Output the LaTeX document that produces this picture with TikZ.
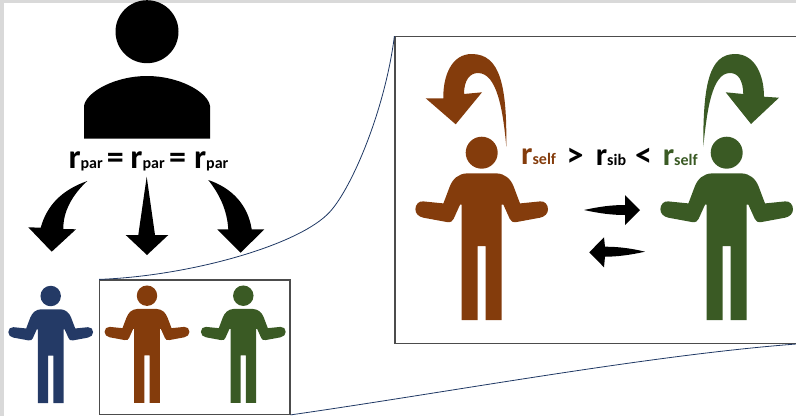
\documentclass[tikz,border=0pt]{standalone}
\usepackage{fontspec}
\setmainfont{Carlito}
\definecolor{pblue}{HTML}{243A66}
\definecolor{pbrown}{HTML}{843C0C}
\definecolor{pgreen}{HTML}{3A5A24}
\definecolor{stage}{HTML}{D9D9D9}
\definecolor{zoomline}{HTML}{1F3864}
\newcommand{\rlarge}[1]{{\fontsize{#1}{#1}\selectfont r}}
\newcommand{\subtx}[2]{{\fontsize{#1}{#1}\selectfont #2}}
\newcommand{\relsym}[1]{{\fontsize{34}{34}\selectfont #1}}
\tikzset{
  x=1pt,y=-1pt,
  person/.pic={
    \fill[pic actions] (0,0) circle[radius=16];
    \fill[pic actions] (0,20.7) -- (15,20.7) .. controls (23,21) and (29,26) .. (32,34)
      -- (38.3,50.7) -- (58.3,48.7)
      .. controls (63,48) and (66.3,52) .. (66.3,56.5)
      .. controls (66.3,61) and (63,64) .. (58.3,65)
      -- (35,69.3) .. controls (31,70) and (29,68.5) .. (28,66)
      -- (21.7,52) -- (20,52) -- (20,167.3) -- (4,167.3) -- (4,93.3)
      -- (-4,93.3) -- (-4,167.3) -- (-20,167.3) -- (-20,52) -- (-21.7,52)
      -- (-28,66) .. controls (-29,68.5) and (-31,70) .. (-35,69.3)
      -- (-58.3,65) .. controls (-63,64) and (-66.3,61) .. (-66.3,56.5)
      .. controls (-66.3,52) and (-63,48) .. (-58.3,48.7)
      -- (-38.3,50.7) -- (-32,34) .. controls (-29,26) and (-23,21) .. (-15,20.7) -- cycle;
  },
  framebox/.style={draw=black!70,line width=1.2pt,minimum width=#1,inner sep=0pt,anchor=center},
  zoomedge/.style={draw=zoomline,line width=.8pt},
  lbl/.style={inner sep=0pt,anchor=base west,font=\bfseries},
}
\begin{document}
\begin{tikzpicture}
\useasboundingbox (0,0) rectangle (796,416);
\clip (0,0) rectangle (796,416);
\fill[stage] (0,0) rectangle (796,3);
\fill[stage] (0,0) rectangle (4,416);

% parent
\fill (147,31.7) circle[radius=31.5];
\fill (84,138.7) -- (84,106) .. controls (86,92) and (115,76) .. (147,76)
  .. controls (179,76) and (208,92) .. (210,106) -- (210,138.7) -- cycle;

\node[lbl] (parlabel) at (68.3,168) {\rlarge{34}\subtx{16}{par}\hspace{4.2pt}\relsym{=}\hspace{6.6pt}\rlarge{34}\subtx{16}{par}\hspace{4.5pt}\relsym{=}\hspace{7.9pt}\rlarge{34}\subtx{16}{par}};

% black arrows
\fill (87.3,181) .. controls (62,190) and (47,205) .. (40.7,227.7) -- (28.3,227.3) -- (51.7,251.7)
  -- (76,229.3) -- (63.3,229) .. controls (63,212) and (72,195) .. (87.3,181) -- cycle;
\fill (146.7,176.7) -- (138.3,235) -- (125.7,235) -- (147,255) -- (168.3,235) -- (155,235) -- cycle;
\fill (208.3,180) .. controls (232,188) and (248,205) .. (251.7,229.3) -- (264.3,229.3) -- (240.7,252.7)
  -- (217.3,229.3) -- (228.3,229.3) .. controls (227,210) and (220,195) .. (208.3,180) -- cycle;

% small people
\pic[fill=pblue,scale=.64] at (50.7,296) {person};
\pic[fill=pbrown,scale=.64] at (147,295.7) {person};
\pic[fill=pgreen,scale=.64] at (243.3,295.7) {person};

% frames
\node[framebox=190.3pt,minimum height=134.3pt] (srcbox) at (194.85,347.15) {};
\node[framebox=402pt,minimum height=306.6pt] (dstbox) at (596,190) {};
\draw[zoomedge] (srcbox.north west) .. controls (190,276) and (300,245) .. (330,211.7) .. controls (352,187.5) and (385,110) .. (dstbox.north west);
\draw[zoomedge] (srcbox.south east) .. controls (450,392) and (650,355) .. (dstbox.south east);

% big people
\pic[fill=pbrown] at (481.7,152.7) {person};
\pic[fill=pgreen] at (726.7,152.7) {person};

% curls
\fill[pbrown] (506.3,146.7) .. controls (507,85) and (500,54) .. (471.7,54)
  .. controls (452,54) and (443,75) .. (443.3,98.3) -- (425.7,98.3) -- (455.7,124.3) -- (482,92.3) -- (464,94)
  .. controls (464,80) and (470,73) .. (478,73)
  .. controls (497,73) and (503,110) .. (506.3,146.7) -- cycle;
\fill[pgreen] (703.3,146.7) .. controls (703,85) and (709,54) .. (735,54)
  .. controls (755,54) and (764,75) .. (764,96.7) -- (779,97.7) -- (751,124) -- (725.7,92.3) -- (743.3,94)
  .. controls (743,80) and (738,73) .. (730,73)
  .. controls (712,73) and (707,110) .. (703.3,146.7) -- cycle;

% labels
\node[lbl,text=pbrown] (selfa) at (521,164.5) {\rlarge{32}\subtx{16}{self}};
\node[lbl] (gtsym) at (566.5,166.5) {\relsym{>}};
\node[lbl] (sib) at (595.6,165) {\rlarge{32}\subtx{16}{sib}};
\node[lbl] (ltsym) at (635,166.5) {\relsym{<}};
\node[lbl,text=pgreen] (selfb) at (662.6,165) {\rlarge{32}\subtx{16}{self}};

% exchange arrows
\fill (584,210) .. controls (600,206.5) and (612,205) .. (625,205) -- (625,195) -- (640,210) -- (625,225) -- (625,215) .. controls (612,215) and (600,213.5) .. (584,210) -- cycle;
\fill (645,251.7) .. controls (630,248) and (617,246.7) .. (605,246.7) -- (604,237.3) -- (589.3,252.3) -- (604,267.3) -- (605,256.7) .. controls (617,256.7) and (630,255) .. (645,251.7) -- cycle;
\end{tikzpicture}
\end{document}
